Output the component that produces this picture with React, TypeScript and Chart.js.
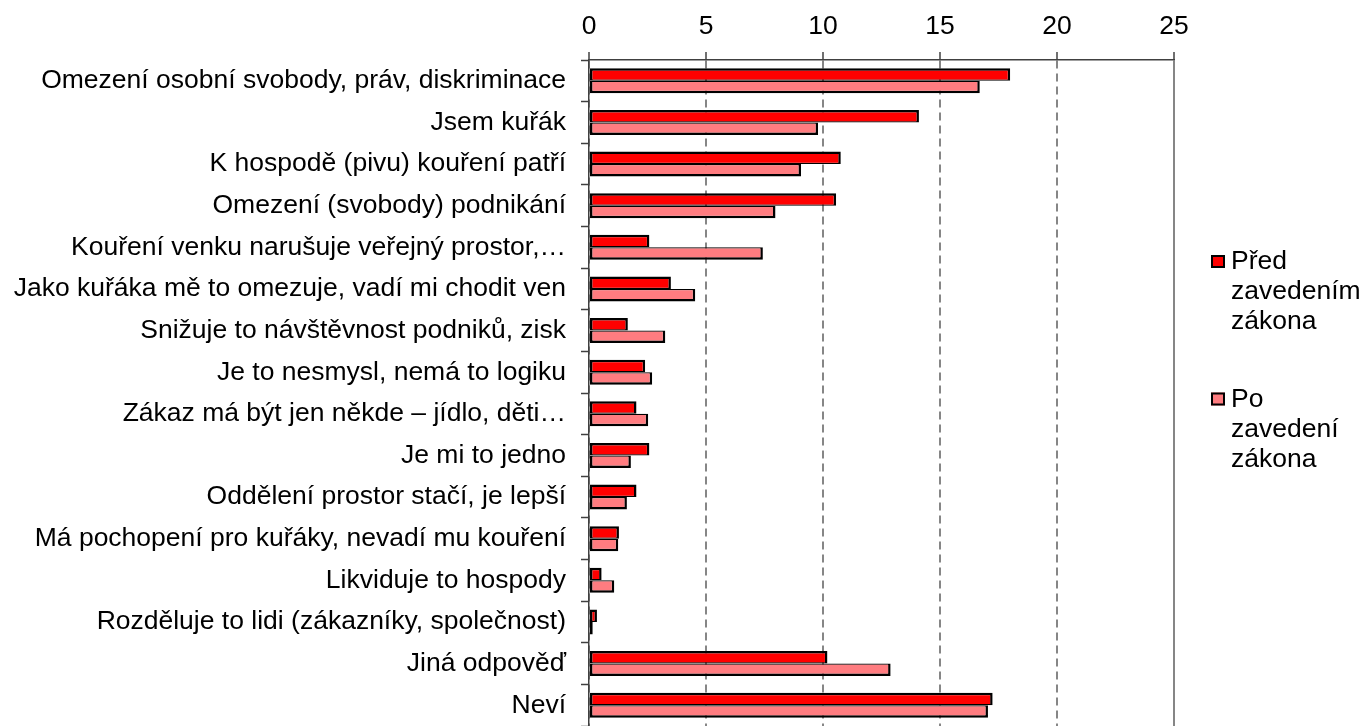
import React, { useEffect, useRef } from "react";
import { Chart, registerables } from "chart.js";

Chart.register(...registerables);

const categories = [
  "Omezení osobní svobody, práv, diskriminace",
  "Jsem kuřák",
  "K hospodě (pivu) kouření patří",
  "Omezení (svobody) podnikání",
  "Kouření venku narušuje veřejný prostor,…",
  "Jako kuřáka mě to omezuje, vadí mi chodit ven",
  "Snižuje to návštěvnost podniků, zisk",
  "Je to nesmysl, nemá to logiku",
  "Zákaz má být jen někde – jídlo, děti…",
  "Je mi to jedno",
  "Oddělení prostor stačí, je lepší",
  "Má pochopení pro kuřáky, nevadí mu kouření",
  "Likviduje to hospody",
  "Rozděluje to lidi (zákazníky, společnost)",
  "Jiná odpověď",
  "Neví",
];

const predValues = [18.0, 14.1, 10.76, 10.56, 2.58, 3.5, 1.66, 2.4, 2.03, 2.58, 2.03, 1.28, 0.54, 0.34, 10.19, 17.25];
const poValues = [16.7, 9.79, 9.06, 7.97, 7.43, 4.54, 3.26, 2.7, 2.53, 1.79, 1.62, 1.25, 1.08, 0.16, 12.89, 17.05];

const seriesNames = ["Před zavedením zákona", "Po zavedení zákona"];
const legendLines = [
  ["Před", "zavedením", "zákona"],
  ["Po", "zavedení", "zákona"],
];
const seriesColors = ["#FF0000", "#FF7C80"];

const xTicks = { min: 0, max: 25, step: 5 };

const FONT = "'Liberation Sans', Arial, sans-serif";
const FONT_SIZE = 26.5;

const sideLegend = {
  id: "sideLegend",
  afterDraw(chart: any) {
    const ctx = chart.ctx;
    const x0 = chart.chartArea.right + 37;
    let y = chart.height / 2 - 94;
    ctx.save();
    ctx.font = `${FONT_SIZE}px ${FONT}`;
    ctx.textBaseline = "alphabetic";
    ctx.textAlign = "left";
    legendLines.forEach((lines, i) => {
      const ds = chart.data.datasets[i];
      ctx.fillStyle = ds.backgroundColor;
      ctx.fillRect(x0, y - 14, 14, 13);
      ctx.lineWidth = 2;
      ctx.strokeStyle = "#000";
      ctx.strokeRect(x0 + 1, y - 13, 12, 11);
      ctx.fillStyle = "#000";
      lines.forEach((ln, j) => ctx.fillText(ln, x0 + 20, y + j * 30));
      y += lines.length * 30 + 47.5;
    });
    ctx.restore();
  },
};

export default function App() {
  const ref = useRef<HTMLCanvasElement>(null);

  useEffect(() => {
    if (!ref.current) return;
    Chart.defaults.font.family = FONT;
    const chart = new Chart(ref.current, {
      type: "bar",
      data: {
        labels: categories,
        datasets: [
          {
            label: seriesNames[0],
            data: predValues,
            backgroundColor: seriesColors[0],
            borderColor: "#000",
            borderWidth: { top: 2.5, right: 2.5, bottom: 1.25, left: 2.5 },
            borderSkipped: false,
            inflateAmount: 0,
          },
          {
            label: seriesNames[1],
            data: poValues,
            backgroundColor: seriesColors[1],
            borderColor: "#000",
            borderWidth: { top: 1.25, right: 2.5, bottom: 2.5, left: 2.5 },
            borderSkipped: false,
            inflateAmount: 0,
          },
        ],
      },
      options: {
        indexAxis: "y",
        animation: false,
        responsive: false,
        categoryPercentage: 0.6,
        barPercentage: 1.0,
        layout: { padding: { left: 0, top: 0, right: 191, bottom: 0 } },
        plugins: {
          legend: { display: false },
          tooltip: { enabled: false },
        },
        scales: {
          x: {
            type: "linear",
            position: "top",
            min: xTicks.min,
            max: xTicks.max,
            ticks: {
              stepSize: xTicks.step,
              color: "#000",
              font: { size: FONT_SIZE },
              padding: 9,
            },
            grid: {
              color: "#868686",
              lineWidth: 2,
              drawTicks: true,
              tickLength: 8,
              tickColor: "#404040",
              tickWidth: 1.5,
            },
            border: {
              display: true,
              color: "#404040",
              width: 1.5,
              dash: (c: any) => (c.tick && c.tick.value === xTicks.max ? [] : [8, 5]),
            },
            afterFit: (s: any) => {
              s.height = 60;
              s.paddingLeft = 0;
              s.paddingRight = 0;
            },
          },
          y: {
            type: "category",
            ticks: {
              color: "#000",
              font: { size: FONT_SIZE },
              padding: 15,
              autoSkip: false,
            },
            grid: {
              offset: true,
              drawOnChartArea: false,
              drawTicks: true,
              tickLength: 8,
              tickColor: "#404040",
              tickWidth: 1.5,
            },
            border: { display: true, color: "#404040", width: 1.5 },
            afterFit: (s: any) => {
              s.width = 589;
              s.paddingTop = 0;
              s.paddingBottom = 0;
            },
          },
        },
      },
      plugins: [sideLegend],
    } as any);
    return () => chart.destroy();
  }, []);

  return (
    <div style={{ position: "fixed", left: 0, top: 0, width: 1365, height: 726, overflow: "hidden", background: "#fff" }}>
      <canvas ref={ref} width={1365} height={726} />
    </div>
  );
}
